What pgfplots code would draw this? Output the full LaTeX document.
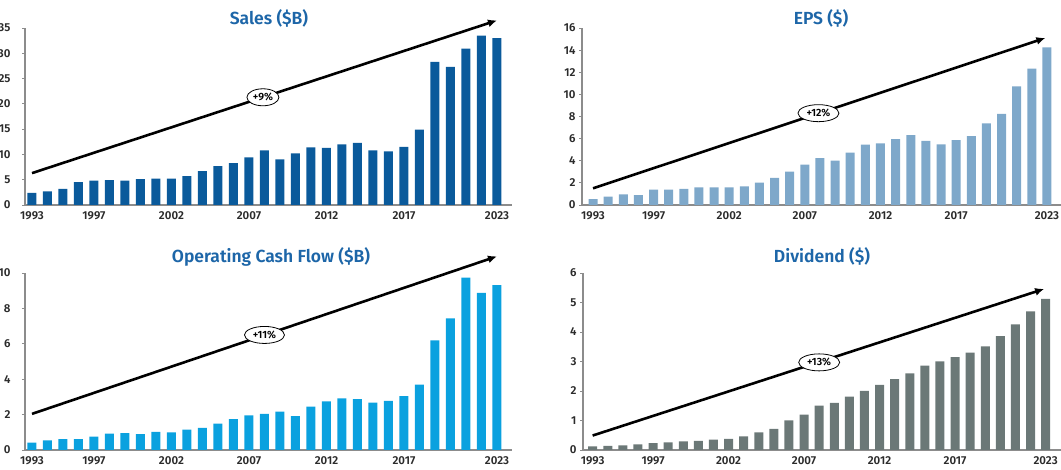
\documentclass[border=0pt]{standalone}
\usepackage{pgfplots}
\pgfplotsset{compat=1.18}
\usepackage{fontspec}
\setmainfont{Fira Sans}
\newfontfamily\semib{Fira Sans SemiBold}
\usetikzlibrary{arrows.meta,shapes.geometric}
\definecolor{salesc}{HTML}{0A5A9B}
\definecolor{epsc}{HTML}{7EA8CA}
\definecolor{ocfc}{HTML}{0AA1DF}
\definecolor{divc}{HTML}{6B7877}
\definecolor{titlec}{HTML}{1D66A8}
\definecolor{axgray}{HTML}{8C8C8C}
\definecolor{tickc}{HTML}{2B2B2B}
\tikzset{
  trend/.style={black, line width=2.6pt, -{Latex[length=9pt,width=8pt]}},
  pct/.style={draw=black, line width=0.8pt, fill=white, ellipse, inner sep=0pt,
    minimum height=17pt, font=\fontsize{10.5}{11}\selectfont\semib}
}
\pgfplotsset{
  panel/.style={scale only axis, axis x line*=bottom, axis y line*=left,
    axis line style={draw=axgray, line width=1.3pt, -},
    ymin=0, tick align=outside, major tick length=3pt,
    xtick={1993,1997,2002,2007,2012,2017,2023},
    xticklabels={1993,1997,2002,2007,2012,2017,2023},
    x tick style={draw=none}, y tick style={draw=axgray, line width=0.8pt},
    tick label style={font=\fontsize{11.5}{13}\selectfont\semib, text=tickc},
    /pgf/number format/assume math mode=true,
    clip=false, anchor=south west, height=177pt},
  leftpanel/.style={panel, yticklabel style={xshift=-8pt}},
  bars/.style={ybar, bar width=9pt, bar shift=0pt, draw=none, fill=#1}
}
\newcommand{\ttl}[1]{\fontsize{17.5}{20}\selectfont\semib #1}
\begin{document}
\begin{tikzpicture}
% Sales
\begin{axis}[leftpanel, at={(25pt,265pt)}, width=487pt, xmin=1992.55, xmax=2023.97, ymax=35, ytick={0,5,...,35}]
\addplot[bars=salesc] coordinates {
(1993,2.4)(1994,2.7)(1995,3.2)(1996,4.5)(1997,4.8)(1998,4.9)(1999,4.8)(2000,5.1)
(2001,5.2)(2002,5.2)(2003,5.7)(2004,6.7)(2005,7.7)(2006,8.3)(2007,9.4)(2008,10.8)
(2009,9.0)(2010,10.2)(2011,11.4)(2012,11.3)(2013,12.0)(2014,12.3)(2015,10.8)(2016,10.6)
(2017,11.5)(2018,14.9)(2019,28.3)(2020,27.3)(2021,30.9)(2022,33.5)(2023,33.0)};
\draw[trend] (axis cs:1993,6.3) -- (axis cs:2023,36.5);
\node[pct, minimum width=32pt] at (axis cs:2007.9,21.3) {+9\%};
\end{axis}
% EPS
\begin{axis}[panel, at={(582pt,265pt)}, width=487.6pt, xmin=1992.27, xmax=2024.5, ymax=16, ytick={0,2,...,16}]
\addplot[bars=epsc] coordinates {
(1993,0.54)(1994,0.75)(1995,0.97)(1996,0.9)(1997,1.39)(1998,1.39)(1999,1.45)(2000,1.6)
(2001,1.6)(2002,1.6)(2003,1.69)(2004,2.02)(2005,2.45)(2006,3.02)(2007,3.65)(2008,4.23)
(2009,4.01)(2010,4.74)(2011,5.46)(2012,5.58)(2013,5.95)(2014,6.31)(2015,5.8)(2016,5.49)
(2017,5.86)(2018,6.22)(2019,7.37)(2020,8.24)(2021,10.72)(2022,12.32)(2023,14.25)};
\draw[trend] (axis cs:1993,1.51) -- (axis cs:2022.9,15.1);
\node[pct, minimum width=41pt] at (axis cs:2007.9,8.3) {+12\%};
\end{axis}
% OCF
\begin{axis}[leftpanel, at={(25pt,20pt)}, width=487pt, xmin=1992.55, xmax=2023.97, ymax=10, ytick={0,2,...,10}]
\addplot[bars=ocfc] coordinates {
(1993,0.42)(1994,0.55)(1995,0.62)(1996,0.62)(1997,0.75)(1998,0.92)(1999,0.96)(2000,0.89)
(2001,1.02)(2002,1.0)(2003,1.15)(2004,1.25)(2005,1.49)(2006,1.75)(2007,1.96)(2008,2.04)
(2009,2.17)(2010,1.91)(2011,2.45)(2012,2.74)(2013,2.92)(2014,2.87)(2015,2.68)(2016,2.77)
(2017,3.04)(2018,3.7)(2019,6.19)(2020,7.43)(2021,9.74)(2022,8.87)(2023,9.32)};
\draw[trend] (axis cs:1993,2.04) -- (axis cs:2023,10.94);
\node[pct, minimum width=40pt] at (axis cs:2008.0,6.5) {+11\%};
\end{axis}
% Dividend
\begin{axis}[panel, at={(583pt,20pt)}, width=485.3pt, xmin=1992.36, xmax=2024.5, ymax=6, ytick={0,1,...,6}]
\addplot[bars=divc] coordinates {
(1993,0.12)(1994,0.14)(1995,0.16)(1996,0.19)(1997,0.23)(1998,0.26)(1999,0.29)(2000,0.31)
(2001,0.35)(2002,0.38)(2003,0.46)(2004,0.6)(2005,0.72)(2006,1.0)(2007,1.2)(2008,1.5)
(2009,1.6)(2010,1.81)(2011,2.0)(2012,2.21)(2013,2.4)(2014,2.6)(2015,2.86)(2016,3.0)
(2017,3.15)(2018,3.3)(2019,3.51)(2020,3.86)(2021,4.26)(2022,4.7)(2023,5.12)};
\draw[trend] (axis cs:1993,0.49) -- (axis cs:2022.9,5.46);
\node[pct, minimum width=41pt] at (axis cs:2008.0,2.97) {+13\%};
\end{axis}
\node[text=titlec] at (269pt,452pt) {\ttl{Sales (\$B)}};
\node[text=titlec] at (821pt,452pt) {\ttl{EPS (\$)}};
\node[text=titlec] at (271pt,213pt) {\ttl{Operating Cash Flow (\$B)}};
\node[text=titlec] at (822pt,214pt) {\ttl{Dividend (\$)}};
\pgfresetboundingbox
\useasboundingbox (0pt,0pt) rectangle (1061pt,470pt);
\end{tikzpicture}
\end{document}
